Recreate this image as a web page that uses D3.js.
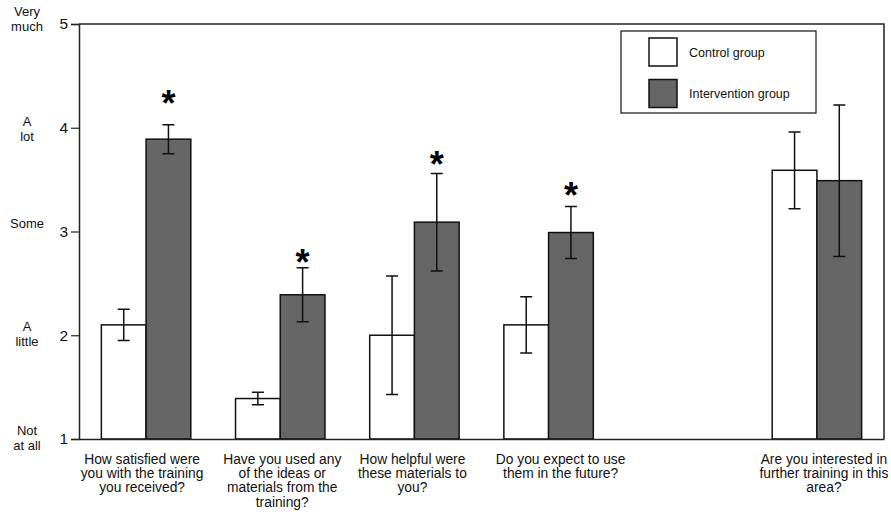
<!DOCTYPE html>
<html><head><meta charset="utf-8">
<script src="https://cdn.jsdelivr.net/npm/d3@7"></script>
<style>
html,body{margin:0;padding:0;background:#fff;}
svg{display:block;font-family:"Liberation Sans",Arial,sans-serif;}
</style></head>
<body>
<svg id="chart" width="891" height="512"></svg>
<script>
// ---- data ----
const categories = [
  ["How satisfied were","you with the training","you received?"],
  ["Have you used any","of the ideas or","materials from the","training?"],
  ["How helpful were","these materials to","you?"],
  ["Do you expect to use","them in the future?"],
  [],
  ["Are you interested in","further training in this","area?"]
];
const seriesNames = ["Control group","Intervention group"];
const controlValues      = [2.10, 1.39, 2.00, 2.10, null, 3.59];
const controlErrors      = [0.15, 0.06, 0.57, 0.27, null, 0.37];
const interventionValues = [3.89, 2.39, 3.09, 2.99, null, 3.49];
const interventionErrors = [0.14, 0.26, 0.47, 0.25, null, 0.73];
const significanceMarkAt = [4.32, 2.78, 3.73, 3.43, null, null];
const yTicks = [1,2,3,4,5];
const yTickNames = [["Not","at all"],["A","little"],["Some"],["A","lot"],["Very","much"]];

// ---- layout ----
const labelShift = [-4, 2, -2, 12, 0, 7];
const nameNudge = [-0.5, 0, 0, 2, -4.5];
const fills = ["#ffffff","#666666"];
const svg = d3.select("#chart");
const mLeft = 79, mRight = 884, mTop = 24, mBottom = 439;

const x = d3.scaleBand().domain(d3.range(categories.length)).range([mLeft,mRight]).padding(0);
const xi = d3.scaleBand().domain([0,1]).range([0,x.bandwidth()]).paddingInner(0).paddingOuter(0.5);
const y = d3.scaleLinear().domain([1,5]).range([mBottom, mTop]);

// frame (top and right)
svg.append("path")
  .attr("d", `M${mLeft},${mTop}H${mRight}V${mBottom}`)
  .attr("fill","none").attr("stroke","#222").attr("stroke-width",1.5);

// bars
const rows = [];
categories.forEach((c,i)=>{
  if (controlValues[i]==null) return;
  rows.push({i, s:0, v:controlValues[i], e:controlErrors[i]});
  rows.push({i, s:1, v:interventionValues[i], e:interventionErrors[i]});
});
svg.append("g").selectAll("rect").data(rows).join("rect")
  .attr("x", d=>x(d.i)+xi(d.s))
  .attr("width", xi.bandwidth())
  .attr("y", d=>y(d.v))
  .attr("height", d=>y(1)-y(d.v))
  .attr("fill", d=>fills[d.s])
  .attr("stroke","#111").attr("stroke-width",1.5);

// error bars
const eg = svg.append("g").attr("stroke","#111").attr("stroke-width",1.5).attr("fill","none");
eg.selectAll("path").data(rows).join("path")
  .attr("d", d=>{
    const cx = x(d.i)+xi(d.s)+xi.bandwidth()/2;
    const y0 = y(d.v-d.e), y1 = y(d.v+d.e);
    return `M${cx-6},${y1}H${cx+6}M${cx},${y1}V${y0}M${cx-6},${y0}H${cx+6}`;
  });

// significance asterisks
svg.append("g").selectAll("text")
  .data(significanceMarkAt.map((m,i)=>({m,i})).filter(d=>d.m!=null))
  .join("text")
  .attr("x", d=>x(d.i)+xi(1)+xi.bandwidth()/2)
  .attr("y", d=>y(d.m)+21)
  .attr("text-anchor","middle")
  .attr("font-size",36).attr("font-weight","bold")
  .text("*");

// y axis
const yAxis = svg.append("g").attr("transform",`translate(${mLeft},0)`)
  .call(d3.axisLeft(y).tickValues(yTicks).tickFormat(d3.format("d")).tickSizeOuter(0).tickSize(8).tickPadding(3));
yAxis.select(".domain").attr("stroke","#222").attr("stroke-width",1.5);
yAxis.selectAll(".tick line").attr("stroke","#222").attr("stroke-width",1.2);
yAxis.selectAll(".tick text").attr("font-size",15.5).attr("font-family","Liberation Sans, Arial, sans-serif").attr("fill","#111");

// x axis baseline
const xAxis = svg.append("g").attr("transform",`translate(0,${mBottom})`)
  .call(d3.axisBottom(x).tickSize(0).tickFormat(""));
xAxis.select(".domain").attr("stroke","#222").attr("stroke-width",1.5);

// category labels
const lab = svg.append("g").attr("font-size",13.8).attr("fill","#111").attr("text-anchor","middle");
categories.forEach((lines,i)=>{
  const cx = x(i)+x.bandwidth()/2+labelShift[i];
  const t = lab.append("text").attr("x", cx).attr("y", 463.5);
  lines.forEach((ln,k)=>t.append("tspan").attr("x", cx).attr("dy", k? 14.4:0).text(ln));
});

// y tick names
const yl = svg.append("g").attr("font-size",13).attr("fill","#111").attr("text-anchor","middle");
yTicks.forEach((v,i)=>{
  const base = y(v) - 8.5 + 4.7 + nameNudge[i];
  yTickNames[i].forEach((n,k)=>yl.append("text").attr("x",27).attr("y", base + k*15).text(n));
});

// legend
const lg = svg.append("g");
lg.append("rect").attr("x",621).attr("y",31).attr("width",195).attr("height",82)
  .attr("fill","#fff").attr("stroke","#111").attr("stroke-width",1.2);
seriesNames.forEach((n,k)=>{
  lg.append("rect").attr("x",649).attr("y",38+k*41.5).attr("width",28).attr("height",28)
    .attr("fill",fills[k]).attr("stroke","#111").attr("stroke-width",1.5);
  lg.append("text").attr("x",689).attr("y",52+k*41.5+4.5).attr("font-size",12.5).attr("fill","#111").text(n);
});
</script>
</body></html>
